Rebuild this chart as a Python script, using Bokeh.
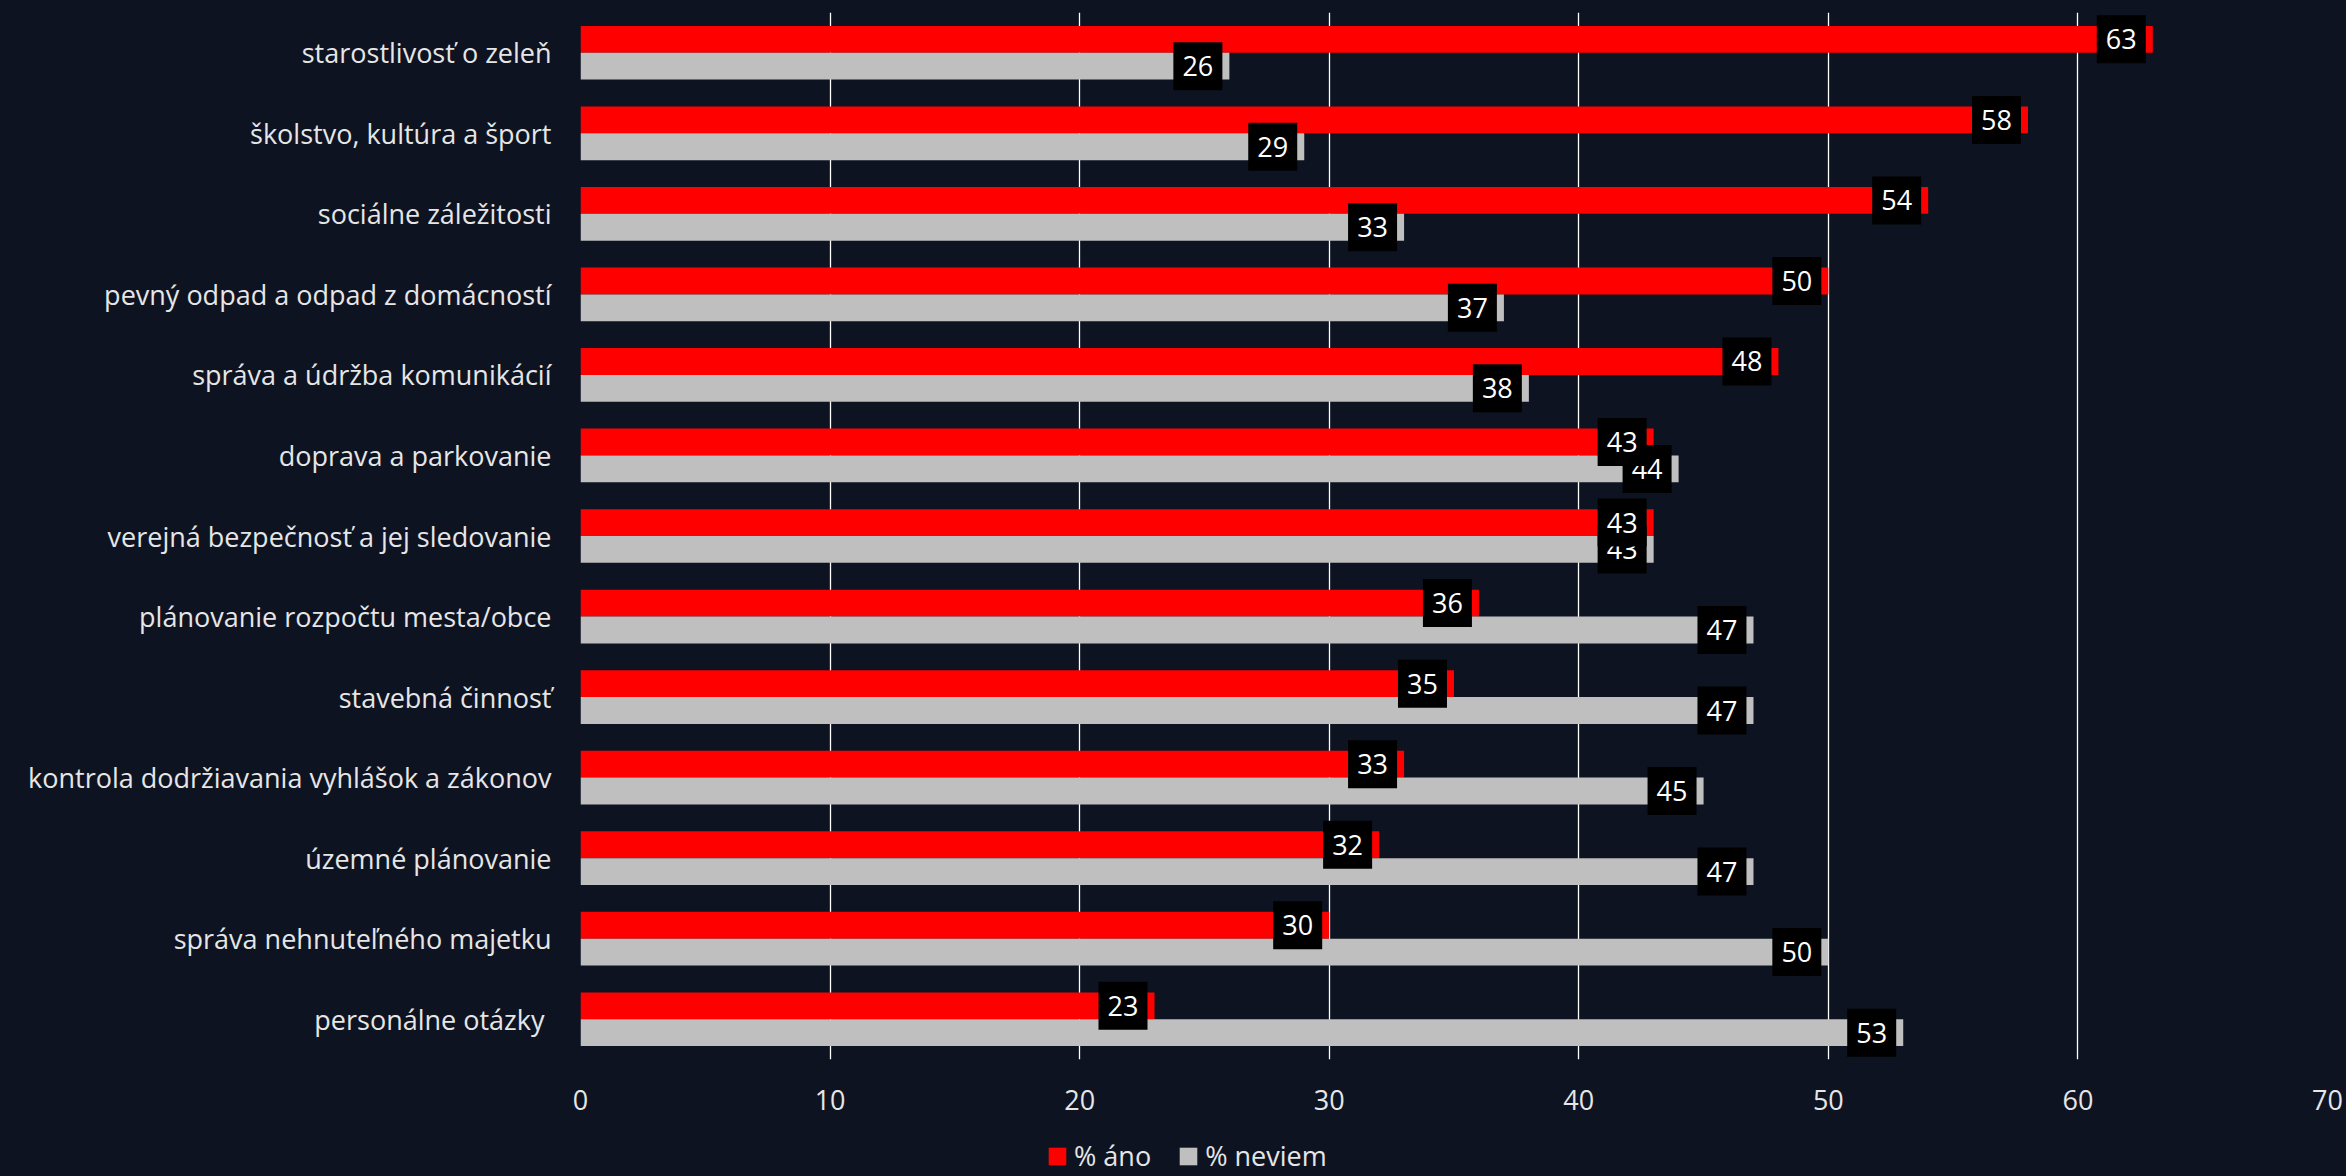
from bokeh.plotting import figure
from bokeh.layouts import column
from bokeh.models import (FactorRange, Range1d, Legend, LegendItem,
                          ColumnDataSource, FixedTicker)
from bokeh.transform import dodge
from bokeh.embed import file_html
from bokeh.resources import INLINE
from bokeh.core.properties import value

# ---- data -------------------------------------------------------------
categories = [
    "starostlivosť o zeleň",
    "školstvo, kultúra a šport",
    "sociálne záležitosti",
    "pevný odpad a odpad z domácností",
    "správa a údržba komunikácií",
    "doprava a parkovanie",
    "verejná bezpečnosť a jej sledovanie",
    "plánovanie rozpočtu mesta/obce",
    "stavebná činnosť",
    "kontrola dodržiavania vyhlášok a zákonov",
    "územné plánovanie",
    "správa nehnuteľného majetku",
    "personálne otázky ",
]
ano = [63, 58, 54, 50, 48, 43, 43, 36, 35, 33, 32, 30, 23]
neviem = [26, 29, 33, 37, 38, 44, 43, 47, 47, 45, 47, 50, 53]
series_names = ["% áno", "% neviem"]
x_ticks = [0, 10, 20, 30, 40, 50, 60, 70]

# ---- style ------------------------------------------------------------
BG = "#0e1322"
RED = "#ff0000"
GRAY = "#bfbfbf"
TXT = "#e6e6e6"
FONT = "Open Sans"
FS = "27px"

source = ColumnDataSource(dict(
    cat=categories,
    ano=ano,
    neviem=neviem,
    ano_lbl=[str(v) for v in ano],
    neviem_lbl=[str(v) for v in neviem],
))

p = figure(
    width=2346, height=1130,
    y_range=FactorRange(factors=list(reversed(categories))),
    x_range=Range1d(0, 70),
    output_backend="svg", toolbar_location=None,
    min_border_left=580, min_border_right=19,
    min_border_top=12, min_border_bottom=71,
)
p.background_fill_color = BG
p.border_fill_color = BG
p.outline_line_color = None

# axes
p.xaxis.ticker = FixedTicker(ticks=x_ticks)
p.xaxis.axis_line_color = None
p.xaxis.major_tick_line_color = None
p.xaxis.minor_tick_line_color = None
p.xaxis.major_tick_out = 0
p.xaxis.major_tick_in = 0
p.xaxis.major_label_standoff = 30
p.xaxis.major_label_text_font = FONT
p.xaxis.major_label_text_font_size = FS
p.xaxis.major_label_text_color = TXT

p.yaxis.axis_line_color = None
p.yaxis.major_tick_line_color = None
p.yaxis.minor_tick_line_color = None
p.yaxis.major_tick_out = 0
p.yaxis.major_tick_in = 0
p.yaxis.major_label_standoff = 29
p.yaxis.major_label_text_font = FONT
p.yaxis.major_label_text_font_size = FS
p.yaxis.major_label_text_color = TXT

p.xgrid.grid_line_color = "white"
p.xgrid.grid_line_width = 1.3
p.ygrid.grid_line_color = None

BAR_H = 1 / 3
OFF = 1 / 6

r_ano = p.hbar(y=dodge("cat", OFF, range=p.y_range), left=0, right="ano",
               height=BAR_H, fill_color=RED, line_color=None, source=source)
r_nev = p.hbar(y=dodge("cat", -OFF, range=p.y_range), left=0, right="neviem",
               height=BAR_H, fill_color=GRAY, line_color=None, source=source)

# data labels (inside end, black boxes)
LBL_SHIFT = -1.263   # data units, box centre left of bar end
for col, lbl, off in (("neviem", "neviem_lbl", -OFF), ("ano", "ano_lbl", OFF)):
    p.rect(x=dodge(col, LBL_SHIFT), y=dodge("cat", off, range=p.y_range),
           width=49, height=48, width_units="screen", height_units="screen",
           fill_color="black", line_color=None, source=source)
    p.text(x=dodge(col, LBL_SHIFT), y=dodge("cat", off, range=p.y_range),
           text=lbl, text_align="center", text_baseline="middle",
           text_color="white", text_font=value(FONT), text_font_size=FS,
           source=source)

# ---- legend strip (separate figure so the legend is not clipped) -------
lg = figure(
    width=2346, height=46,
    x_range=Range1d(0, 1), y_range=Range1d(0, 1),
    output_backend="svg", toolbar_location=None,
    x_axis_location=None, y_axis_location=None,
    min_border_left=0, min_border_right=0,
    min_border_top=0, min_border_bottom=0,
)
lg.background_fill_color = BG
lg.border_fill_color = BG
lg.outline_line_color = None
lg.xgrid.grid_line_color = None
lg.ygrid.grid_line_color = None
# zero-length key bars (invisible; only used for the legend swatches)
key = ColumnDataSource(dict(y=[0.5], left=[0], right=[0]))
k_ano = lg.hbar(y="y", left="left", right="right", height=0.5,
                fill_color=RED, line_color=None, source=key)
k_nev = lg.hbar(y="y", left="left", right="right", height=0.5,
                fill_color=GRAY, line_color=None, source=key)

legend = Legend(
    items=[LegendItem(label=series_names[0], renderers=[k_ano]),
           LegendItem(label=series_names[1], renderers=[k_nev])],
    orientation="horizontal",
    location=(466, 2),
    glyph_width=22, glyph_height=22,
    label_standoff=6, spacing=26, padding=0, margin=0,
    background_fill_alpha=0, border_line_color=None,
    label_text_color=TXT, label_text_font=FONT, label_text_font_size=FS,
)
lg.add_layout(legend, "center")

layout = column(p, lg, spacing=0)
html = file_html(layout, INLINE)
html = html.replace(
    "</head>",
    "<style>html, body { background-color: %s !important; }</style></head>" % BG,
    1,
)
open("out.html", "w").write(html)
